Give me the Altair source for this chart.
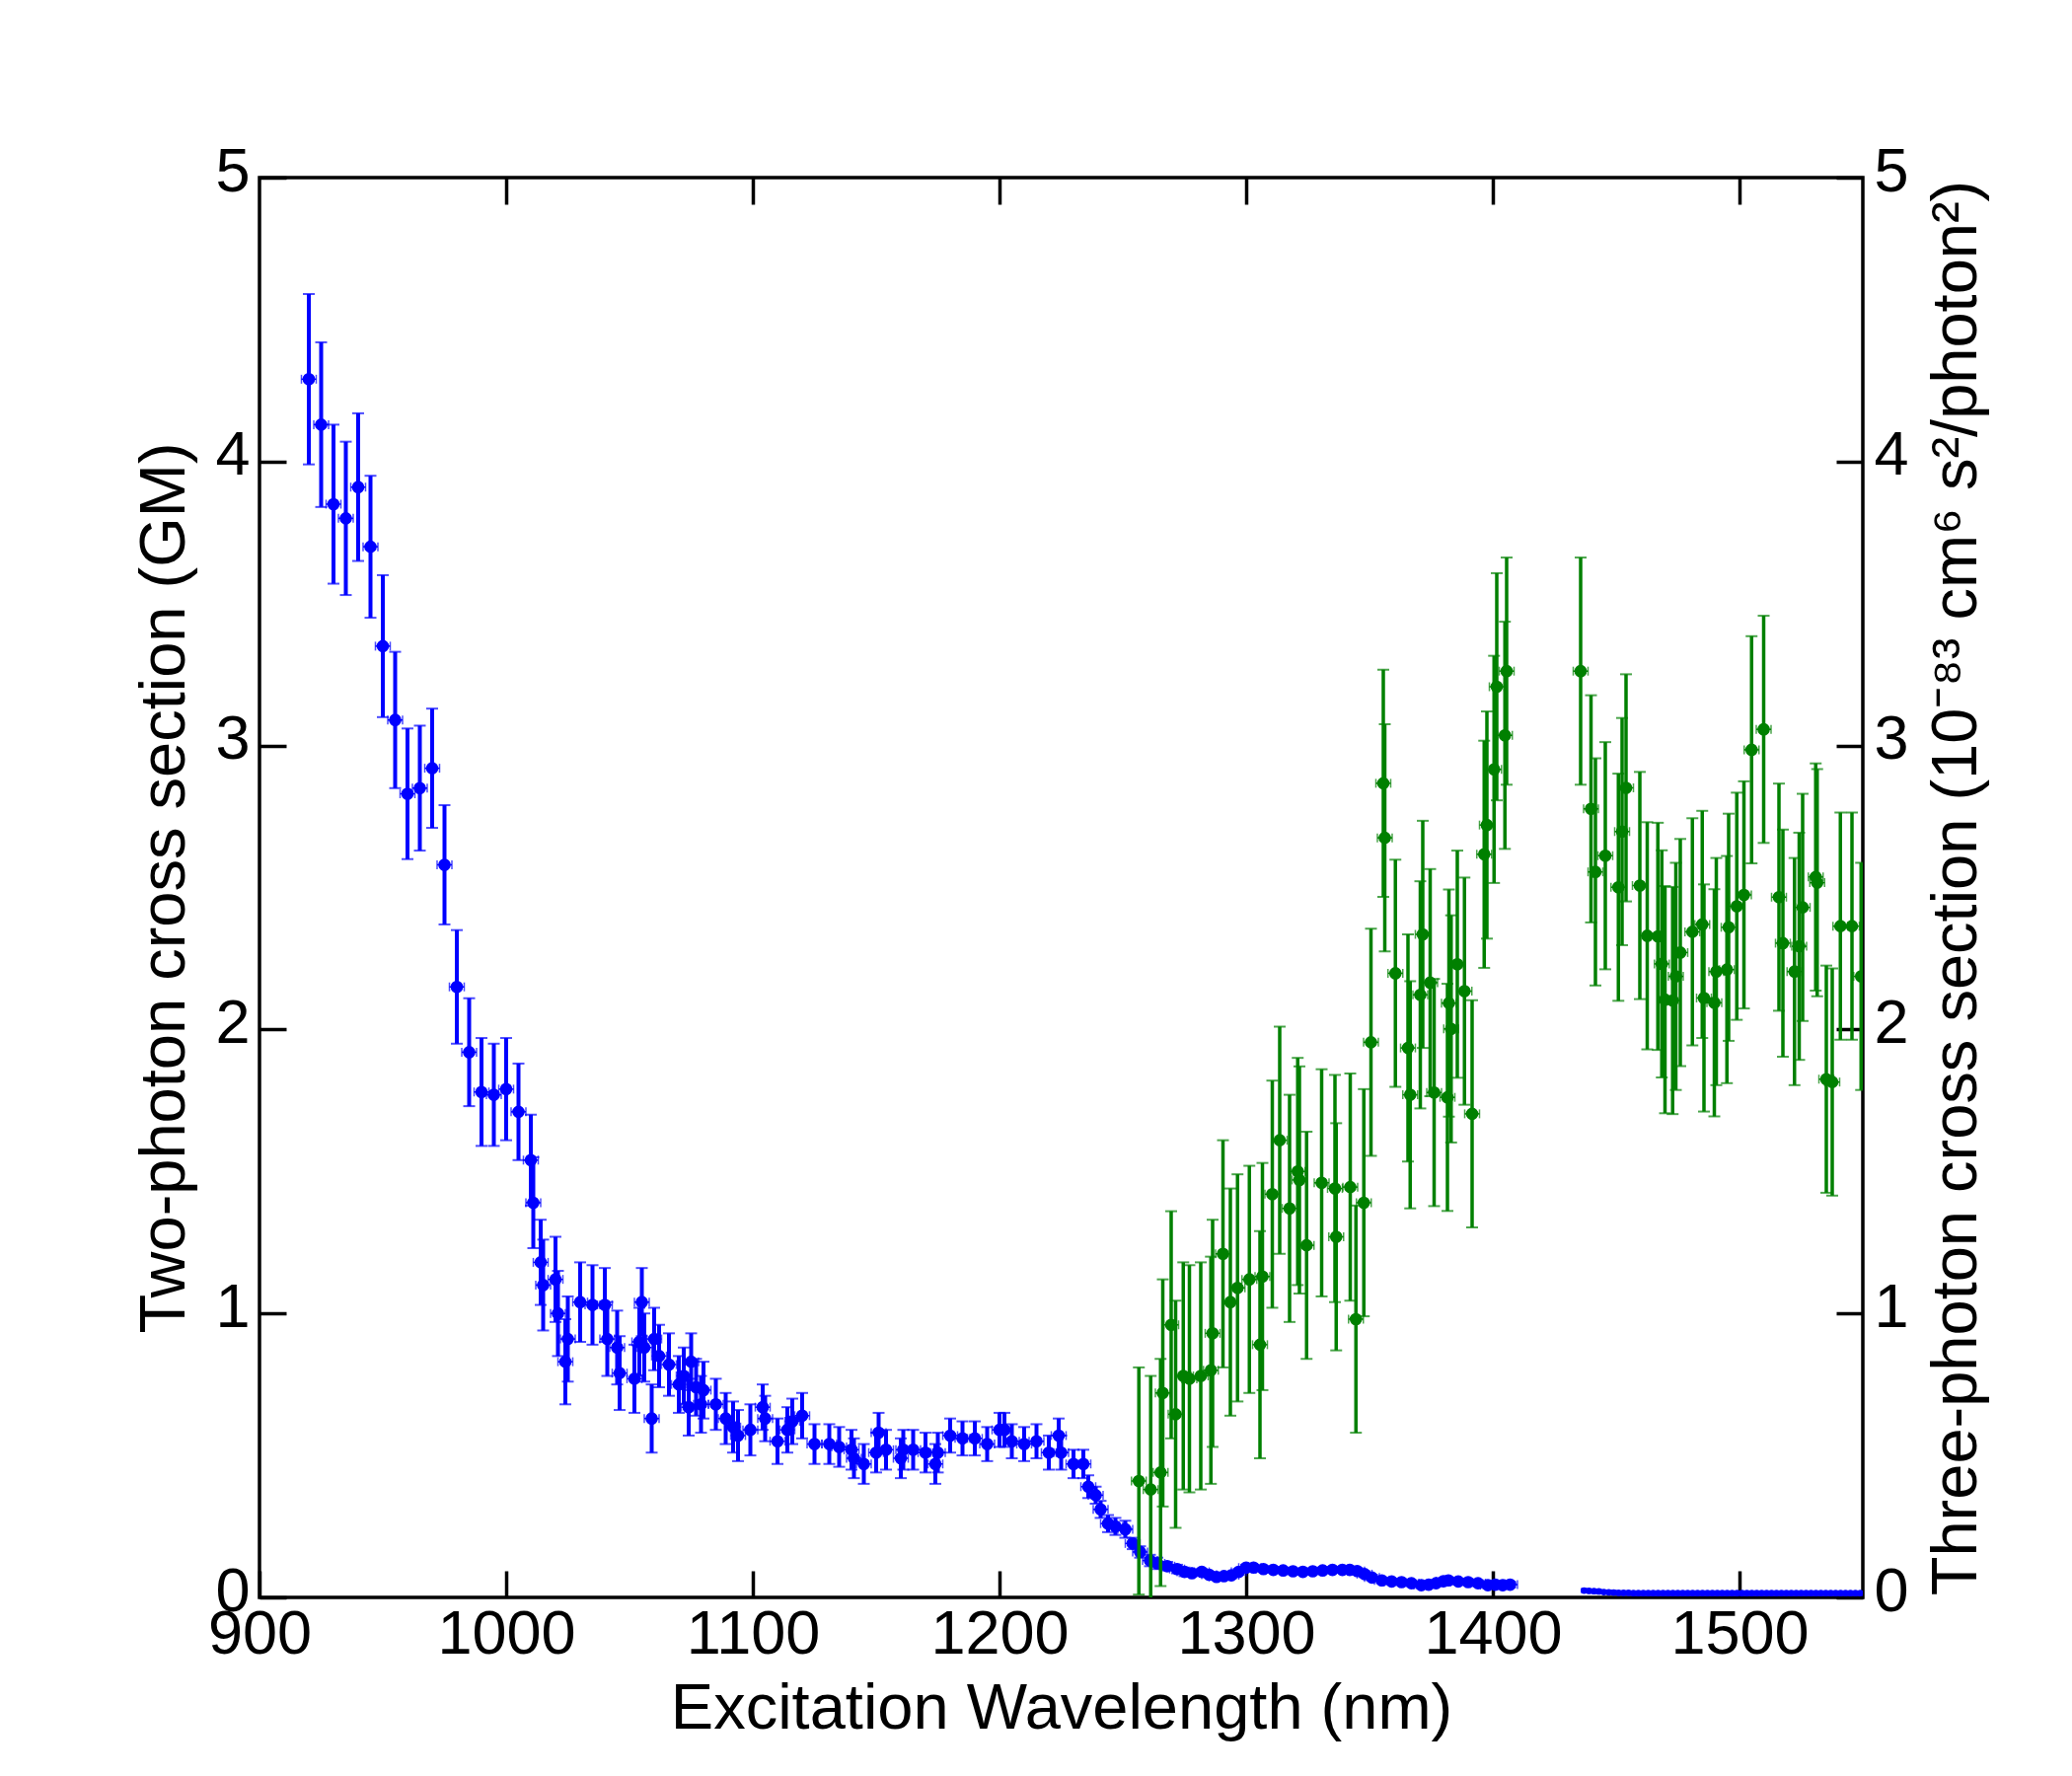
import altair as alt
import pandas as pd

# ---------------- data ----------------
# two-photon cross section (GM), blue
tp_nm = [920, 925, 930, 935, 940, 945, 950, 955, 960, 965,
         970, 975, 980, 985, 990, 995, 1000, 1005, 1010, 1011,
         1014, 1015, 1020, 1021, 1024, 1025, 1030, 1035, 1040, 1041,
         1045, 1046, 1052, 1054, 1055, 1056, 1059, 1060, 1062, 1066,
         1070, 1072, 1074, 1075, 1077, 1079, 1080, 1085, 1089, 1092,
         1094, 1099, 1104, 1105, 1110, 1114, 1116, 1120, 1125, 1131,
         1135, 1140, 1141, 1145, 1150, 1151, 1154, 1160, 1161, 1165,
         1170, 1174, 1175, 1180, 1185, 1190, 1195, 1200, 1202, 1205,
         1210, 1215, 1220, 1224, 1225, 1230, 1234, 1236, 1239, 1241,
         1244, 1247, 1251, 1254, 1257, 1261, 1264, 1268, 1272, 1275,
         1278, 1282, 1285, 1288, 1291, 1294, 1297, 1300, 1303, 1307,
         1311, 1315, 1319, 1323, 1327, 1331, 1335, 1339, 1342, 1345,
         1348, 1351, 1355, 1359, 1363, 1367, 1371, 1374, 1377, 1380,
         1382, 1386, 1390, 1394, 1398, 1401, 1404, 1407]
tp_val = [4.29, 4.13, 3.85, 3.80, 3.91, 3.70, 3.35, 3.09, 2.83, 2.85,
          2.92, 2.58, 2.15, 1.92, 1.78, 1.77, 1.79, 1.71, 1.54, 1.39,
          1.18, 1.10, 1.12, 1.00, 0.83, 0.91, 1.04, 1.03, 1.03, 0.91,
          0.88, 0.79, 0.77, 0.90, 1.04, 0.88, 0.63, 0.91, 0.85, 0.82,
          0.75, 0.78, 0.67, 0.83, 0.74, 0.68, 0.73, 0.68, 0.63, 0.60,
          0.57, 0.59, 0.67, 0.63, 0.55, 0.59, 0.62, 0.64, 0.54, 0.54,
          0.53, 0.52, 0.49, 0.47, 0.51, 0.58, 0.52, 0.49, 0.52, 0.52,
          0.51, 0.47, 0.51, 0.57, 0.56, 0.56, 0.54, 0.59, 0.59, 0.55,
          0.54, 0.55, 0.51, 0.57, 0.51, 0.47, 0.47, 0.39, 0.36, 0.31,
          0.26, 0.25, 0.24, 0.19, 0.16, 0.13, 0.12, 0.11, 0.10, 0.09,
          0.085, 0.09, 0.08, 0.072, 0.075, 0.078, 0.09, 0.105, 0.105, 0.10,
          0.097, 0.095, 0.092, 0.09, 0.092, 0.095, 0.097, 0.097, 0.097, 0.093,
          0.082, 0.07, 0.06, 0.056, 0.054, 0.05, 0.043, 0.045, 0.05, 0.057,
          0.06, 0.056, 0.054, 0.05, 0.043, 0.045, 0.043, 0.045]
tp_err = [0.30, 0.29, 0.28, 0.27, 0.26, 0.25, 0.25, 0.24, 0.23, 0.22,
          0.21, 0.21, 0.20, 0.19, 0.19, 0.18, 0.18, 0.17, 0.16, 0.16,
          0.15, 0.16, 0.15, 0.15, 0.15, 0.15, 0.14, 0.14, 0.13, 0.13,
          0.13, 0.13, 0.12, 0.12, 0.12, 0.12, 0.12, 0.11, 0.11, 0.11,
          0.10, 0.10, 0.10, 0.10, 0.10, 0.10, 0.10, 0.09, 0.09, 0.09,
          0.09, 0.09, 0.08, 0.08, 0.08, 0.08, 0.08, 0.08, 0.07, 0.07,
          0.07, 0.07, 0.07, 0.07, 0.07, 0.07, 0.07, 0.07, 0.07, 0.07,
          0.07, 0.07, 0.07, 0.06, 0.06, 0.06, 0.06, 0.06, 0.06, 0.06,
          0.06, 0.06, 0.06, 0.06, 0.06, 0.05, 0.05, 0.04, 0.03, 0.03,
          0.03, 0.03, 0.03, 0.02, 0.02, 0.02, 0.02, 0.015, 0.015, 0.015,
          0.01, 0.01, 0.01, 0.01, 0.01, 0.01, 0.01, 0.01, 0.01, 0.01,
          0.01, 0.01, 0.01, 0.01, 0.01, 0.01, 0.01, 0.01, 0.01, 0.01,
          0.01, 0.01, 0.01, 0.01, 0.01, 0.01, 0.01, 0.01, 0.01, 0.01,
          0.01, 0.01, 0.01, 0.01, 0.01, 0.01, 0.01, 0.01]
tp_xerr = 3.0

# two-photon long-wavelength tail (small markers), blue
tail_nm = [1437, 1439, 1441, 1443, 1445, 1447, 1449, 1451, 1453, 1455,
           1457, 1459, 1461, 1463, 1465, 1467, 1469, 1471, 1473, 1475,
           1477, 1479, 1481, 1483, 1485, 1487, 1489, 1491, 1493, 1495,
           1497, 1499, 1501, 1503, 1505, 1507, 1509, 1511, 1513, 1515,
           1517, 1519, 1521, 1523, 1525, 1527, 1529, 1531, 1533, 1535,
           1537, 1539, 1541, 1543, 1545, 1547, 1549]
tail_val = [0.024, 0.023, 0.022, 0.021, 0.019, 0.018, 0.017, 0.016, 0.016, 0.016,
            0.015, 0.015, 0.015, 0.015, 0.015, 0.015, 0.015, 0.015, 0.015, 0.015,
            0.015, 0.015, 0.015, 0.015, 0.015, 0.015, 0.015, 0.015, 0.015, 0.015,
            0.015, 0.015, 0.015, 0.015, 0.015, 0.015, 0.015, 0.015, 0.015, 0.015,
            0.015, 0.015, 0.015, 0.015, 0.015, 0.015, 0.015, 0.015, 0.015, 0.015,
            0.015, 0.015, 0.015, 0.015, 0.015, 0.015, 0.015]
tail_err = [0.005, 0.005, 0.005, 0.005, 0.005, 0.005, 0.005, 0.005, 0.005, 0.005,
            0.005, 0.005, 0.005, 0.005, 0.005, 0.005, 0.005, 0.005, 0.005, 0.005,
            0.005, 0.005, 0.005, 0.005, 0.005, 0.005, 0.005, 0.005, 0.005, 0.005,
            0.005, 0.005, 0.005, 0.005, 0.005, 0.005, 0.005, 0.005, 0.005, 0.005,
            0.005, 0.005, 0.005, 0.005, 0.005, 0.005, 0.005, 0.005, 0.005, 0.005,
            0.005, 0.005, 0.005, 0.005, 0.005, 0.005, 0.005]
tail_xerr = 1.0

# three-photon cross section (1e-83 cm^6 s^2/photon^2), green
th_nm = [1256.5, 1261.3, 1265.3, 1266.2, 1269.6, 1271.4, 1274.5, 1277.0, 1281.6, 1285.7,
         1286.4, 1290.6, 1293.6, 1296.5, 1301.3, 1305.6, 1306.6, 1310.6, 1313.6, 1317.6,
         1320.9, 1321.6, 1324.5, 1330.6, 1336.0, 1336.5, 1342.2, 1344.5, 1347.7, 1350.6,
         1355.6, 1356.2, 1360.5, 1365.6, 1366.5, 1370.6, 1371.6, 1374.6, 1376.2, 1381.6,
         1382.2, 1383.1, 1385.6, 1388.5, 1391.6, 1396.5, 1397.6, 1400.5, 1401.6, 1404.9,
         1405.6, 1435.6, 1439.8, 1441.6, 1445.6, 1450.9, 1452.4, 1454.0, 1459.6, 1462.6,
         1466.9, 1468.5, 1469.8, 1472.9, 1474.2, 1476.0, 1480.9, 1484.9, 1485.6, 1489.8,
         1490.6, 1494.9, 1495.6, 1498.9, 1501.8, 1504.9, 1509.8, 1516.0, 1517.6, 1522.3,
         1524.2, 1525.6, 1530.9, 1531.5, 1535.2, 1537.6, 1540.9, 1545.6, 1549.3]
th_val = [0.41, 0.38, 0.44, 0.72, 0.96, 0.645, 0.78, 0.77, 0.78, 0.80,
          0.93, 1.21, 1.04, 1.09, 1.12, 0.89, 1.13, 1.42, 1.61, 1.37,
          1.50, 1.47, 1.24, 1.46, 1.44, 1.27, 1.445, 0.98, 1.39, 1.955,
          2.867, 2.675, 2.198, 1.935, 1.77, 2.122, 2.335, 2.165, 1.778, 1.761,
          2.093, 2.002, 2.23, 2.135, 1.703, 2.617, 2.72, 2.916, 3.207, 3.036,
          3.262, 3.262, 2.777, 2.555, 2.612, 2.501, 2.697, 2.851, 2.507, 2.33,
          2.328, 2.231, 2.105, 2.102, 2.187, 2.271, 2.344, 2.37, 2.111, 2.094,
          2.204, 2.211, 2.36, 2.434, 2.474, 2.985, 3.057, 2.466, 2.304, 2.204,
          2.293, 2.43, 2.537, 2.517, 1.825, 1.815, 2.364, 2.364, 2.187]
th_err = [0.40, 0.40, 0.40, 0.40, 0.40, 0.40, 0.40, 0.40, 0.40, 0.40,
          0.40, 0.40, 0.40, 0.40, 0.40, 0.40, 0.40, 0.40, 0.40, 0.40,
          0.40, 0.40, 0.40, 0.40, 0.40, 0.40, 0.40, 0.40, 0.40, 0.40,
          0.40, 0.40, 0.40, 0.40, 0.40, 0.40, 0.40, 0.40, 0.40, 0.40,
          0.40, 0.40, 0.40, 0.40, 0.40, 0.40, 0.40, 0.40, 0.40, 0.40,
          0.40, 0.40, 0.40, 0.40, 0.40, 0.40, 0.40, 0.40, 0.40, 0.40,
          0.40, 0.40, 0.40, 0.40, 0.40, 0.40, 0.40, 0.40, 0.40, 0.40,
          0.40, 0.40, 0.40, 0.40, 0.40, 0.40, 0.40, 0.40, 0.40, 0.40,
          0.40, 0.40, 0.40, 0.40, 0.40, 0.40, 0.40, 0.40, 0.40]
th_xerr = 3.0

x_tick_values = [900, 1000, 1100, 1200, 1300, 1400, 1500]
x_top_tick_values = [1000, 1100, 1200, 1300, 1400, 1500]
y_tick_values = [0, 1, 2, 3, 4, 5]

x_title = "Excitation Wavelength (nm)"
y_left_title = "Two-photon cross section (GM)"
y_right_title = "Three-photon cross section (10\u207b\u2078\u00b3 cm\u2076 s\u00b2/photon\u00b2)"

# ---------------- styling ----------------
FONT = "Liberation Sans"
BLUE = "#0000ff"
GREEN = "#008000"
W, H = 1625, 1439
TICK = 27
LABEL_SIZE = 63
TITLE_SIZE = 65

x_scale = alt.Scale(domain=[900, 1550], nice=False, zero=False)
y_scale = alt.Scale(domain=[0, 5], nice=False, zero=False)


def make_df(nm, val, err, xerr):
    df = pd.DataFrame({"nm": nm, "val": val, "err": err})
    df["lo"] = df["val"] - df["err"]
    df["hi"] = df["val"] + df["err"]
    df["xlo"] = df["nm"] - xerr
    df["xhi"] = df["nm"] + xerr
    return df


common_axis = dict(
    tickSize=TICK, tickWidth=3.5, tickColor="black", domain=False, grid=False,
    offset=-TICK, labelFont=FONT, labelFontSize=LABEL_SIZE, labelColor="black",
    titleFont=FONT, titleFontSize=TITLE_SIZE, titleFontWeight="normal",
    titleColor="black", labelOverlap=False, labelFlush=False,
)

ax_bottom = alt.Axis(orient="bottom", values=x_tick_values, format="d",
                     title=x_title, labelPadding=6, titlePadding=12, **common_axis)
ax_top = alt.Axis(orient="top", values=x_top_tick_values, labels=False,
                  title="", **common_axis)
ax_left = alt.Axis(orient="left", values=y_tick_values, format="d",
                   title=y_left_title, labelPadding=10, labelOffset=-6,
                   titlePadding=17, **common_axis)
ax_right = alt.Axis(orient="right", values=y_tick_values, format="d",
                    title=y_right_title, labelPadding=11, labelOffset=-6,
                    titleAngle=270, titleBaseline="top", titlePadding=17,
                    **common_axis)


def series(df, color, bar_w, cap_len, msize, xcap_len, x_axis=None, y_axis=None):
    base = alt.Chart(df)

    def X(f, axis=None):
        return alt.X(f, type="quantitative", scale=x_scale, axis=axis)

    def Y(f, axis=None):
        return alt.Y(f, type="quantitative", scale=y_scale, axis=axis)

    bars = base.mark_rule(color=color, strokeWidth=bar_w, clip=True).encode(
        x=X("nm"), y=Y("lo"), y2="hi")
    cap_lo = base.mark_tick(color=color, orient="horizontal", size=cap_len,
                            thickness=2, clip=True).encode(x=X("nm"), y=Y("lo"))
    cap_hi = base.mark_tick(color=color, orient="horizontal", size=cap_len,
                            thickness=2, clip=True).encode(x=X("nm"), y=Y("hi"))
    hbar = base.mark_rule(color=color, strokeWidth=1.5, clip=True).encode(
        x=X("xlo"), x2="xhi", y=Y("val"))
    hcap_lo = base.mark_tick(color=color, orient="vertical", size=xcap_len,
                             thickness=1.5, clip=True).encode(x=X("xlo"), y=Y("val"))
    hcap_hi = base.mark_tick(color=color, orient="vertical", size=xcap_len,
                             thickness=1.5, clip=True).encode(x=X("xhi"), y=Y("val"))
    pts = base.mark_point(filled=True, shape="circle", size=msize, color=color,
                          opacity=1, clip=True).encode(
        x=X("nm", x_axis), y=Y("val", y_axis))
    return [bars, cap_lo, cap_hi, hbar, hcap_lo, hcap_hi, pts]


blue_df = make_df(tp_nm, tp_val, tp_err, tp_xerr)
tail_df = make_df(tail_nm, tail_val, tail_err, tail_xerr)
green_df = make_df(th_nm, th_val, th_err, th_xerr)

layers = []
layers += series(blue_df, BLUE, 4, 12, 160, 9, x_axis=ax_bottom, y_axis=ax_left)
layers += series(tail_df, BLUE, 2, 6, 45, 5)
layers += series(green_df, GREEN, 3.5, 12, 160, 9, x_axis=ax_top, y_axis=ax_right)

chart = (
    alt.layer(*layers)
    .resolve_axis(x="independent", y="independent")
    .properties(
        width=W, height=H,
        autosize=alt.AutoSizeParams(type="none"),
        padding={"left": 263, "top": 180, "right": 212, "bottom": 181},
        background="white",
    )
    .configure(font=FONT)
    .configure_view(stroke="black", strokeWidth=3.5)
)

chart.save("out.html", embed_options={"renderer": "svg", "actions": False})
